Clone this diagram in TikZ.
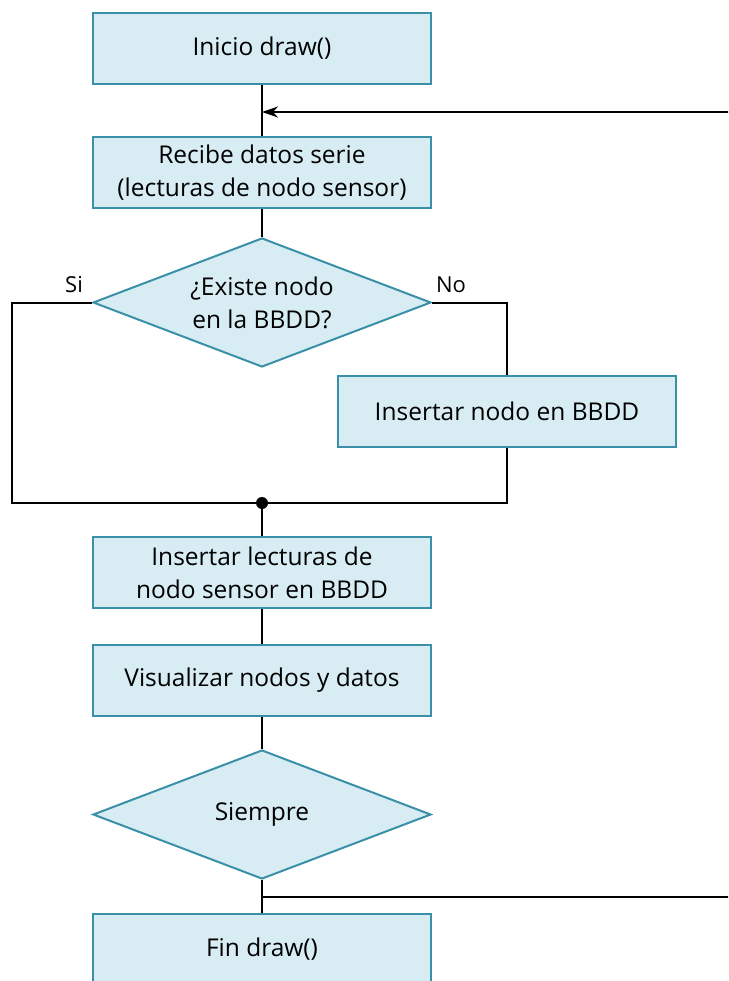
\documentclass[tikz,border=0pt]{standalone}
\usepackage{fontspec}
\setmainfont{Open Sans}
\usetikzlibrary{shapes.geometric,arrows.meta}
\definecolor{boxfill}{HTML}{D8EDF3}
\definecolor{boxline}{HTML}{3A90A8}
\tikzset{
  boxfont/.style={font=\fontsize{24.5}{33}\selectfont},
  stepbox/.style={rectangle, draw=boxline, fill=boxfill, line width=2pt,
    minimum width=338pt, minimum height=71pt, inner sep=0pt, align=center,
    boxfont},
  decision/.style={diamond, draw=boxline, fill=boxfill, line width=2pt,
    minimum width=338pt, minimum height=129pt, inner sep=0pt},
  inlabel/.style={label={[align=center, boxfont]center:#1}},
  link/.style={draw=black, line width=2pt},
  tag/.style={font=\fontsize{22}{24}\selectfont, inner sep=0pt}
}
\begin{document}
\begin{tikzpicture}[x=1pt, y=-1pt]
  \useasboundingbox (0,0) rectangle (728,981);
  \clip (0,0) rectangle (728,981);

  % process blocks
  \node[stepbox] (start)   at (262,48.5)  {Inicio draw()};
  \node[stepbox] (recv)    at (262,173)   {Recibe datos serie\\(lecturas de nodo sensor)};
  \node[decision, inlabel={¿Existe nodo\\en la BBDD?}] (exists) at (262,302.5) {};
  \node[stepbox] (insnode) at (507,411)   {Insertar nodo en BBDD};
  \node[stepbox] (insread) at (262,572.5) {Insertar lecturas de\\nodo sensor en BBDD};
  \node[stepbox] (show)    at (262,680.5) {Visualizar nodos y datos};
  \node[decision, inlabel={Siempre}] (always) at (262,814.5) {};
  \node[stepbox] (stop)    at (262,949)   {Fin draw()};

  % auxiliary points
  \coordinate (loopin)  at (740,112);
  \coordinate (loophit) at (262,112);
  \coordinate (loopout) at (740,897);
  \coordinate (loopsrc) at (262,897);
  \coordinate (junc)    at (262,503);
  \coordinate (leftc)   at (12,302.5);
  \coordinate (rightc)  at (507,302.5);

  % main flow
  \draw[link] (start.south) -- (recv.north);
  \draw[link, -{Stealth[length=16pt,width=11pt,inset=5pt]}] (loopin) -- (loophit);
  \draw[link] (recv.south) -- (exists.north);
  \draw[link] (exists.west) -- (leftc) |- (junc);
  \draw[link] (exists.east) -- (rightc) -- (insnode.north);
  \draw[link] (insnode.south) |- (junc);
  \draw[link] (junc) -- (insread.north);
  \draw[link] (insread.south) -- (show.north);
  \draw[link] (show.south) -- (always.north);
  \draw[link] (always.south) -- (stop.north);
  \draw[link] (loopsrc) -- (loopout);
  \fill (junc) circle (6pt);

  % branch labels
  \node[tag] (si) at (74,285) {Si};
  \node[tag] (no) at (451,285) {No};
\end{tikzpicture}
\end{document}
